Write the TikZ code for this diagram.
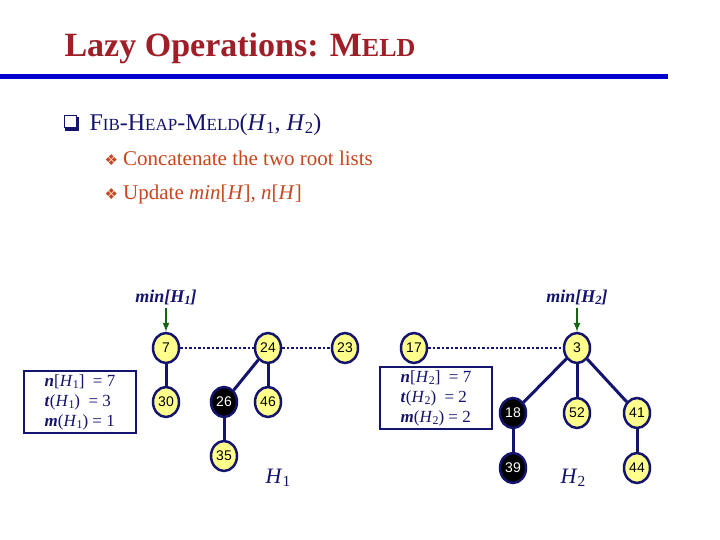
\documentclass[tikz,border=0pt]{standalone}
\usepackage{fontspec}
\setmainfont{Liberation Serif}
\newfontfamily\numfont{Liberation Sans}
\newfontfamily\symfont{DejaVu Sans}
\usetikzlibrary{positioning,shapes.geometric}
\definecolor{titlered}{RGB}{160,30,40}
\definecolor{rulblue}{RGB}{0,0,204}
\definecolor{navy}{RGB}{20,20,110}
\definecolor{bulletred}{RGB}{200,70,30}
\definecolor{nodeyellow}{RGB}{255,255,140}
\definecolor{arrowgreen}{RGB}{20,100,20}
\newcommand{\fsc}[2]{{\fontsize{24}{24}\selectfont #1}{\fontsize{17}{17}\selectfont #2}}
\newcommand{\hs}[1]{\textit{H}\raisebox{-0.25ex}{\scalebox{0.7}{#1}}}

\begin{document}
\begin{tikzpicture}[x=1pt,y=-1pt,
    heapnode/.style={ellipse,draw=navy,line width=2.5pt,fill=nodeyellow,
        minimum width=26pt,minimum height=30pt,inner sep=0pt,
        font=\numfont\fontsize{14}{14}\selectfont},
    marked/.style={heapnode,fill=black,text=white},
    child/.style={draw=navy,line width=3pt},
    rootlink/.style={draw=navy,line width=2.5pt,dotted},
    infobox/.style={draw=navy,line width=2pt,minimum width=112pt,align=left,
        text=navy,font=\fontsize{17}{20}\selectfont,anchor=north west},
    minlabel/.style={text=navy,font=\bfseries\itshape\fontsize{18}{18}\selectfont}]
    \useasboundingbox[fill=white] (0,0) rectangle (720,540);

    % Title and rule
    \node[anchor=base west,text=titlered,font=\bfseries] (title) at (61,57)
        {\fontsize{34}{34}\selectfont Lazy Operations: M\fontsize{26}{26}\selectfont ELD};
    \draw[rulblue,line width=5pt] (0,77) -- (668,77);

    % Bullets
    \fill[navy] (65,117) rectangle (79,131);
    \fill[white] (64,116) rectangle (76,128);
    \draw[navy,line width=1pt] (64,116) rectangle (76,128);
    \node[anchor=base west,text=navy] (meld) at (86,131)
        {\fsc{F}{IB}\fontsize{24}{24}\selectfont -\fsc{H}{EAP}-\fsc{M}{ELD}(\hs{1}, \hs{2})};
    \node[anchor=base west,text=bulletred,font=\fontsize{21}{21}\selectfont] (concat) at (101,166)
        {{\symfont\fontsize{15}{15}\selectfont ❖} Concatenate the two root lists};
    \node[anchor=base west,text=bulletred,font=\fontsize{21}{21}\selectfont] (update) at (101,200)
        {{\symfont\fontsize{15}{15}\selectfont ❖} Update \textit{min}[\textit{H}], \textit{n}[\textit{H}]};

    % Heap H1
    \node[heapnode] (n7) at (166,348) {7};
    \node[heapnode] (n24) at (268,348) {24};
    \node[heapnode] (n23) at (345,348) {23};
    \node[heapnode] (n30) at (166,402) {30};
    \node[marked] (n26) at (224,402) {26};
    \node[heapnode] (n46) at (268,402) {46};
    \node[heapnode] (n35) at (224,456) {35};
    \draw[rootlink] (n7) -- (n24);
    \draw[rootlink] (n24) -- (n23);
    \draw[child] (n7) -- (n30);
    \draw[child] (n24) -- (n26);
    \draw[child] (n24) -- (n46);
    \draw[child] (n26) -- (n35);

    % Heap H2
    \node[heapnode] (n17) at (414,348) {17};
    \node[heapnode] (n3) at (577,348) {3};
    \node[marked] (n18) at (513,413) {18};
    \node[heapnode] (n52) at (577,413) {52};
    \node[heapnode] (n41) at (637,413) {41};
    \node[marked] (n39) at (513,468) {39};
    \node[heapnode] (n44) at (637,468) {44};
    \draw[rootlink] (n17) -- (n3);
    \draw[child] (n3) -- (n18);
    \draw[child] (n3) -- (n52);
    \draw[child] (n3) -- (n41);
    \draw[child] (n18) -- (n39);
    \draw[child] (n41) -- (n44);

    % min pointers
    \node[minlabel] (min1) at (166,297) {min[\hs{1}]};
    \node[minlabel] (min2) at (577,297) {min[\hs{2}]};
    \draw[arrowgreen,line width=2pt,-latex] (min1) -- (n7);
    \draw[arrowgreen,line width=2pt,-latex] (min2) -- (n3);

    % info boxes
    \node[infobox] (box1) at (23,370)
        {\textbf{\textit{n}}[\hs{1}] \ = 7\\ \textbf{\textit{t}}(\hs{1}) \ = 3\\ \textbf{\textit{m}}(\hs{1}) = 1};
    \node[infobox] (box2) at (379,366)
        {\textbf{\textit{n}}[\hs{2}] \ = 7\\ \textbf{\textit{t}}(\hs{2}) \ = 2\\ \textbf{\textit{m}}(\hs{2}) = 2};

    % heap names
    \node[text=navy,font=\fontsize{22}{22}\selectfont] (h1) at (278,478) {\hs{1}};
    \node[text=navy,font=\fontsize{22}{22}\selectfont] (h2) at (573,478) {\hs{2}};
\end{tikzpicture}
\end{document}
